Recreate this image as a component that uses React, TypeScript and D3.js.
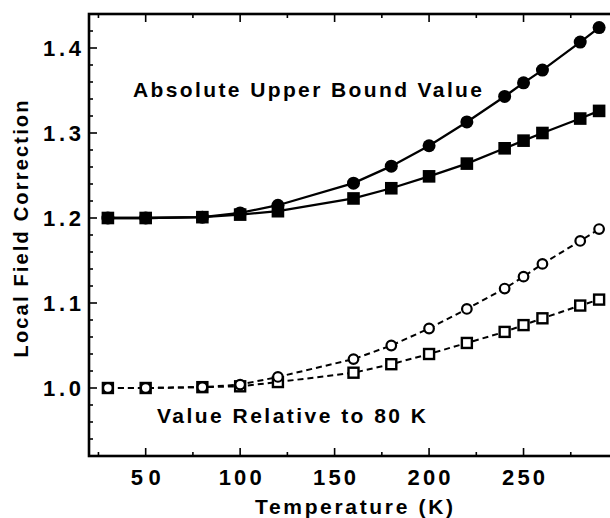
import React from "react";
import * as d3 from "d3";

const temps = [30, 50, 80, 100, 120, 160, 180, 200, 220, 240, 250, 260, 280, 290];
const absCircle = [1.200, 1.200, 1.201, 1.206, 1.215, 1.241, 1.261, 1.285, 1.313, 1.343, 1.359, 1.374, 1.407, 1.424];
const absSquare = [1.200, 1.200, 1.201, 1.204, 1.208, 1.223, 1.235, 1.249, 1.264, 1.282, 1.291, 1.300, 1.317, 1.326];
const relCircle = [1.000, 1.000, 1.001, 1.004, 1.013, 1.034, 1.050, 1.070, 1.093, 1.117, 1.131, 1.146, 1.173, 1.187];
const relSquare = [1.000, 1.000, 1.001, 1.002, 1.007, 1.018, 1.028, 1.040, 1.053, 1.066, 1.074, 1.082, 1.097, 1.104];

const xMajorTicks = [50, 100, 150, 200, 250];
const yMajorTicks = [1.0, 1.1, 1.2, 1.3, 1.4];
const xTickLabels = ["50", "100", "150", "200", "250"];
const yTickLabels = ["1.0", "1.1", "1.2", "1.3", "1.4"];

const W = 610;
const H = 518;
const FONT = "'Liberation Sans', Arial, Helvetica, sans-serif";

export default function App() {
  const x = d3.scaleLinear().domain([20, 300]).range([89, 618]);
  const y = d3.scaleLinear().domain([0.92, 1.44]).range([456, 14]);

  const xMinor = d3.range(25, 300, 25);
  const yMinor = d3.range(0, 27).map((i) => 0.92 + i * 0.02);

  const line = (vals: number[]) =>
    d3.line<number>()
      .x((_, i) => x(temps[i]))
      .y((v) => y(v))
      .curve(d3.curveLinear)(vals) || "";

  const [x0, x1] = x.range();
  const [y0, y1] = y.range();

  return (
    <svg width={W} height={H} style={{ position: "absolute", left: 0, top: 0, background: "#fff" }}>
      <rect x={0} y={0} width={W} height={H} fill="#fff" />
      {/* frame */}
      <rect x={x0} y={y1} width={x1 - x0} height={y0 - y1} fill="none" stroke="#000" strokeWidth={2.6} />

      {/* x ticks bottom & top */}
      {xMinor.map((t) => {
        const major = t % 50 === 0;
        const len = major ? 8 : 4;
        return (
          <g key={"xt" + t}>
            <line x1={x(t)} x2={x(t)} y1={y0} y2={y0 - len} stroke="#000" strokeWidth={1.6} />
            <line x1={x(t)} x2={x(t)} y1={y1} y2={y1 + len} stroke="#000" strokeWidth={1.6} />
          </g>
        );
      })}
      {/* y ticks left & right */}
      {yMinor.map((v, i) => {
        const major = Math.abs(Math.round(v * 10) - v * 10) < 1e-6;
        const len = major ? 8 : 4;
        return (
          <g key={"yt" + i}>
            <line x1={x0} x2={x0 + len} y1={y(v)} y2={y(v)} stroke="#000" strokeWidth={1.6} />
            <line x1={x1} x2={x1 - len} y1={y(v)} y2={y(v)} stroke="#000" strokeWidth={1.6} />
          </g>
        );
      })}

      {/* tick labels */}
      {xMajorTicks.map((t, i) => (
        <text key={"xl" + t} x={x(t)} y={485} textAnchor="middle" fontFamily={FONT} fontWeight="bold" fontSize={22}
          textLength={xTickLabels[i].length === 2 ? 30 : 43} lengthAdjust="spacing">
          {xTickLabels[i]}
        </text>
      ))}
      {yMajorTicks.map((v, i) => (
        <text key={"yl" + i} x={81} y={y(v)} dy="0.38em" textAnchor="end" fontFamily={FONT} fontWeight="bold" fontSize={22}
          textLength={38} lengthAdjust="spacing">
          {yTickLabels[i]}
        </text>
      ))}

      {/* axis titles */}
      <text x={354} y={514} textAnchor="middle" fontFamily={FONT} fontWeight="bold" fontSize={21}
        textLength={198} lengthAdjust="spacing">
        Temperature  (K)
      </text>
      <text transform="translate(28,229) rotate(-90)" textAnchor="middle" fontFamily={FONT} fontWeight="bold" fontSize={20}
        textLength={257} lengthAdjust="spacing">
        Local Field Correction
      </text>

      {/* annotations */}
      <text x={133} y={97} fontFamily={FONT} fontWeight="bold" fontSize={21} textLength={349} lengthAdjust="spacing">
        Absolute Upper Bound Value
      </text>
      <text x={157} y={423} fontFamily={FONT} fontWeight="bold" fontSize={21} textLength={269} lengthAdjust="spacing">
        Value Relative to 80 K
      </text>

      {/* lines */}
      <path d={line(absCircle)} fill="none" stroke="#000" strokeWidth={2.3} />
      <path d={line(absSquare)} fill="none" stroke="#000" strokeWidth={2.3} />
      <path d={line(relCircle)} fill="none" stroke="#000" strokeWidth={2} strokeDasharray="6,4" />
      <path d={line(relSquare)} fill="none" stroke="#000" strokeWidth={2} strokeDasharray="6,4" />

      {/* markers */}
      {absSquare.map((v, i) => (
        <rect key={"as" + i} x={x(temps[i]) - 6.3} y={y(v) - 6.3} width={12.6} height={12.6} fill="#000" />
      ))}
      {absCircle.map((v, i) => (
        <circle key={"ac" + i} cx={x(temps[i])} cy={y(v)} r={6.5} fill="#000" />
      ))}
      {relSquare.map((v, i) => (
        <rect key={"rs" + i} x={x(temps[i]) - 5} y={y(v) - 5} width={10} height={10} fill="#fff" stroke="#000" strokeWidth={2.4} />
      ))}
      {relCircle.map((v, i) => (
        <circle key={"rc" + i} cx={x(temps[i])} cy={y(v)} r={4.8} fill="#fff" stroke="#000" strokeWidth={2.2} />
      ))}
    </svg>
  );
}
